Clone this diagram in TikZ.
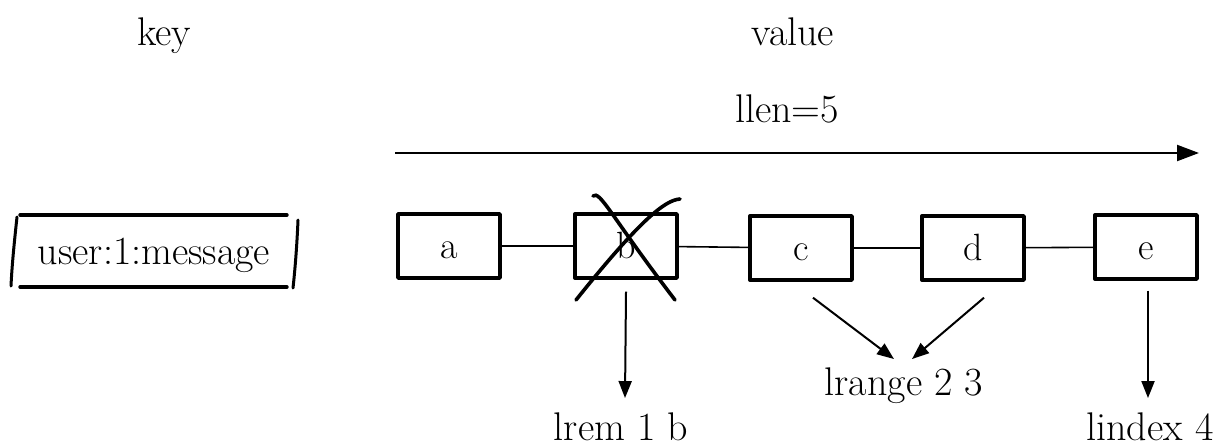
\documentclass[tikz,border=0pt]{standalone}
\usepackage{fontspec}
\usetikzlibrary{arrows.meta,calc}
\begin{document}
\begin{tikzpicture}[x=1pt,y=-1pt,
  txt/.style={font=\fontsize{40}{44}\selectfont, text=black, inner sep=0pt, text depth=0pt},
  cell/.style={draw, line width=3.4pt, line join=round, minimum width=102pt, minimum height=64pt,
    font=\fontsize{38}{44}\selectfont, text=black, text height=25pt, text depth=0pt, inner sep=0pt},
  link/.style={line width=1.6pt},
  arr/.style={line width=2pt, -{Triangle[length=17pt,width=13pt]}},
  bigarr/.style={line width=2.2pt, -{Triangle[length=22pt,width=16pt]}},
  crossline/.style={line width=3.6pt, line cap=round}
]
\useasboundingbox (0,0) rectangle (1230,447);

% headers
\node[txt, anchor=base] (key) at (164,45) {key};
\node[txt, anchor=base] (value) at (793,45) {value};

% llen arrow
\node[txt, anchor=base] (llen) at (787,122) {llen=5};
\coordinate (ls) at (395,153);
\coordinate (le) at (1199,153);
\draw[bigarr] (ls) -- (le);

% key box
\node[txt, anchor=base] (k) at (154,264) {user:1:message};
\coordinate (kTL) at (20,215);
\coordinate (kTR) at (287,215);
\coordinate (kBL) at (20,287);
\coordinate (kBR) at (287,287);
\draw[line width=3.4pt, line cap=round] (kTL) -- (kTR);
\draw[line width=3.4pt, line cap=round] (kBL) -- (kBR);
\draw[line width=3pt, line cap=round] (17,217) .. controls (14,245) and (12,265) .. (11,286);
\draw[line width=3pt, line cap=round] (298,220) .. controls (297,245) and (295,270) .. (293,288);

% list cells
\node[cell] (a) at (449,246) {a};
\node[cell] (b) at (626,246) {b};
\node[cell] (c) at (801,248) {c};
\node[cell] (d) at (973,248) {d};
\node[cell] (e) at (1146,247) {e};

\draw[link] (a) -- (b);
\draw[link] (b) -- (c);
\draw[link] (c) -- (d);
\draw[link] (d) -- (e);

% cross over b
\draw[crossline] (593,196) .. controls (600,190) and (610,215) .. (675,300);
\draw[crossline] (680,199) .. controls (665,200) and (640,220) .. (576,300);

% command labels
\node[txt, anchor=base] (lrem) at (621,440) {lrem 1 b};
\node[txt, anchor=base] (lrange) at (904,395) {lrange 2 3};
\node[txt, anchor=base] (lindex) at (1150,440) {lindex 4};

\draw[arr] ($(b.south)+(0,12)$) -- ($(lrem.north)+(4,-14)$);
\draw[arr] ($(c.south)+(12,16)$) -- ($(lrange.north)+(-10,-8)$);
\draw[arr] ($(d.south)+(11,16)$) -- ($(lrange.north)+(8,-8)$);
\draw[arr] ($(e.south)+(2,10)$) -- ($(lindex.north)+(-2,-14)$);
\end{tikzpicture}
\end{document}
